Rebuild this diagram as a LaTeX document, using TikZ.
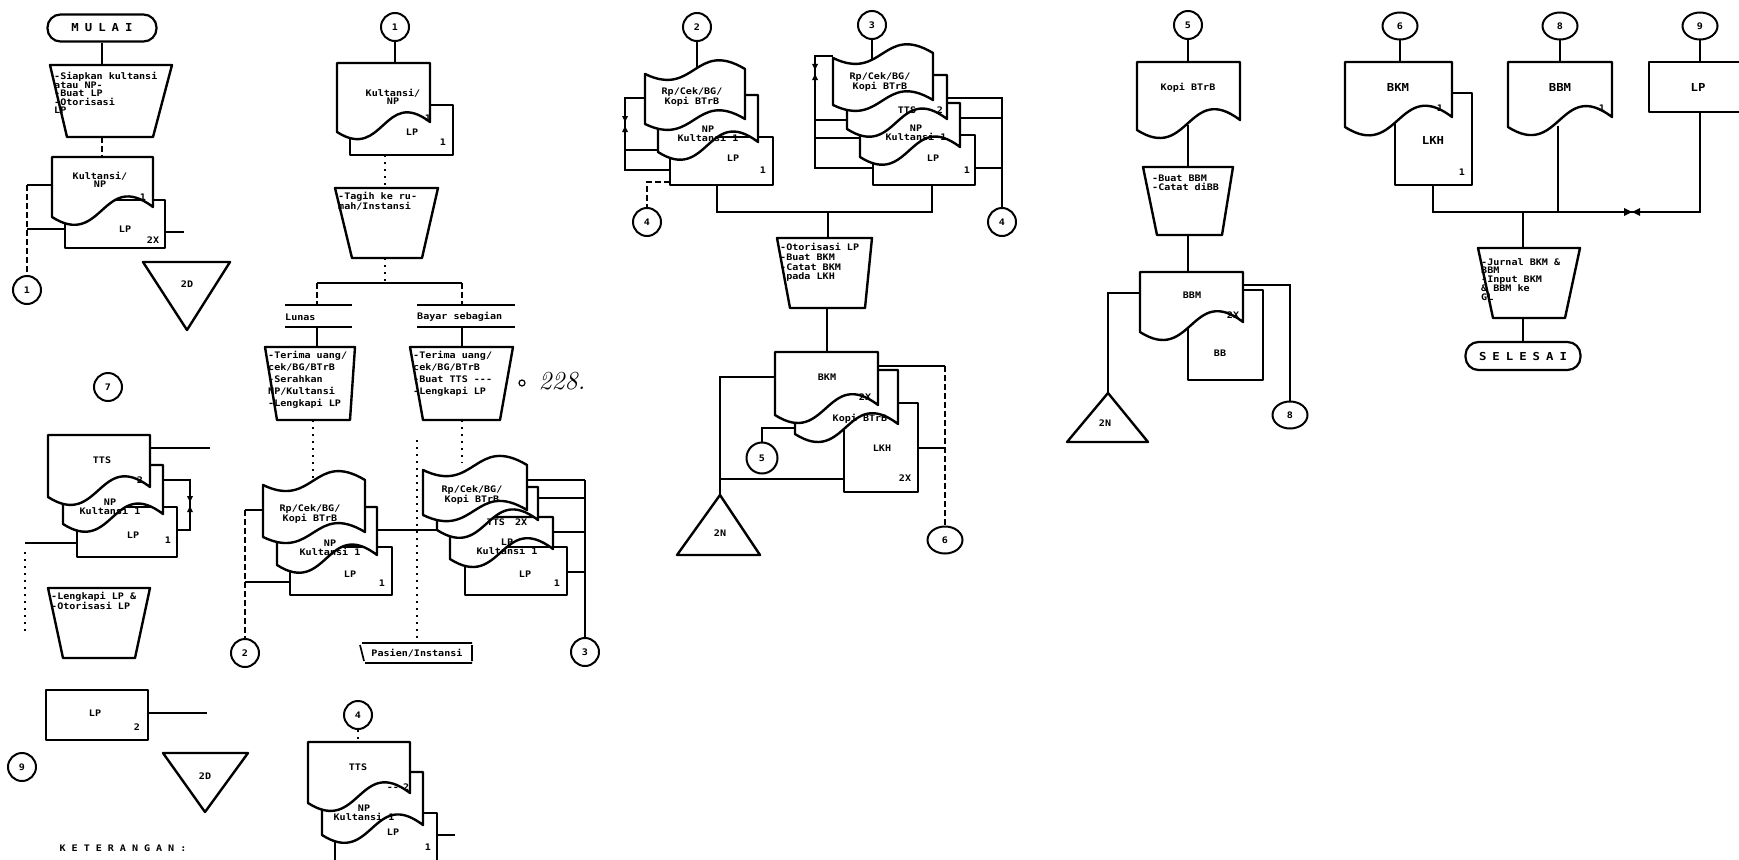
\documentclass[tikz,border=0pt]{standalone}
\usepackage{fontspec}
\usetikzlibrary{shapes.geometric}
\newfontfamily\plot[FakeStretch=1.12]{DejaVu Sans Mono}
\newcommand\lsp{\hspace{6pt}}
% document: x0 y0 x1 yb
\newcommand\docu[4]{%
\pgfmathsetmacro\dxm{(#1+#3)/2}\pgfmathsetmacro\dws{(#3-#1)/100}%
\filldraw[shp] (#1,#2) -- (#3,#2) -- (#3,#4-10) .. controls (\dxm,{#4-10-38*\dws}) and (\dxm,{#4+32*\dws}) .. (#1,#4) -- cycle;}
% punched tape: x0 yt x1 yb
\newcommand\tape[4]{%
\pgfmathsetmacro\dxm{(#1+#3)/2}\pgfmathsetmacro\dws{(#3-#1)/100}%
\filldraw[shp] (#1,#2) .. controls (\dxm,{#2+24*\dws}) and (\dxm,{#2-5-30*\dws}) .. (#3,#2-5) -- (#3,#4-5) .. controls (\dxm,{#4-5-30*\dws}) and (\dxm,{#4+24*\dws}) .. (#1,#4) -- cycle;}
\newcommand\vbow[2]{\fill (#1-3,#2-8) -- (#1+3,#2-8) -- (#1,#2-2) -- cycle; \fill (#1-3,#2+8) -- (#1+3,#2+8) -- (#1,#2+2) -- cycle;}
\newcommand\hbow[2]{\fill (#1-8,#2-4) -- (#1-8,#2+4) -- (#1,#2) -- cycle; \fill (#1+8,#2-4) -- (#1+8,#2+4) -- (#1,#2) -- cycle;}
\begin{document}
\begin{tikzpicture}[x=1pt,y=-1pt,
 shp/.style={draw,line width=2.4pt,fill=white,line join=round},
 ln/.style={line width=1.4pt},
 dl/.style={line width=1.4pt,dash pattern=on 6pt off 3pt},
 dt/.style={line width=1.4pt,dash pattern=on 2pt off 5pt},
 txt/.style={font=\plot\bfseries\fontsize{9}{8.5}\selectfont,inner sep=0pt,align=left},
 txc/.style={font=\plot\bfseries\fontsize{9}{8.5}\selectfont,inner sep=0pt,align=center},
 big/.style={font=\plot\bfseries\fontsize{11}{11}\selectfont,inner sep=0pt},
 cn/.style={circle,draw,line width=2pt,minimum size=28pt,inner sep=0pt,font=\plot\bfseries\fontsize{9}{9}\selectfont},
 ce/.style={ellipse,draw,line width=2pt,minimum width=35pt,minimum height=27pt,inner sep=0pt,font=\plot\bfseries\fontsize{9}{9}\selectfont},
 term/.style={draw,line width=2.2pt,rounded corners=13pt,minimum width=109pt,minimum height=27pt,inner sep=0pt,font=\plot\bfseries\fontsize{11}{11}\selectfont},
 lab/.style={line width=1.7pt}]
\useasboundingbox (0,0) rectangle (1739,859);

% ---------- connector circles and terminators ----------
\node[cn] (c1a) at (27,290) {1};
\node[cn] (c7) at (108,387) {7};
\node[cn] (c9a) at (22,767) {9};
\node[cn] (c1b) at (395,27) {1};
\node[cn] (c2a) at (245,653) {2};
\node[cn] (c3a) at (585,652) {3};
\node[cn] (c4a) at (358,715) {4};
\node[cn] (c2b) at (697,27) {2};
\node[cn] (c3b) at (872,25) {3};
\node[cn] (c4b) at (647,222) {4};
\node[cn] (c4c) at (1002,222) {4};
\node[cn,minimum size=31pt] (c5a) at (762,458) {5};
\node[ce] (c6a) at (945,540) {6};
\node[cn] (c5b) at (1188,25) {5};
\node[ce] (c8a) at (1290,415) {8};
\node[ce] (c6b) at (1400,26) {6};
\node[ce] (c8b) at (1560,26) {8};
\node[ce] (c9b) at (1700,26) {9};
\node[term] (mulai) at (102,28) {M\lsp U\lsp L\lsp A\lsp I};
\node[term,minimum width=115pt,minimum height=28pt] (selesai) at (1523,356) {S\lsp E\lsp L\lsp E\lsp S\lsp A\lsp I};

% ---------- connectors ----------
% column 1
\draw[ln] (mulai.south) -- (102,65);
\draw[dl] (102,137) -- (102,157);
\draw[ln] (52,185) -- (27,185);
\draw[ln] (65,229) -- (27,229);
\draw[dl] (27,185) -- (c1a.north);
\draw[ln] (165,232) -- (184,232);
\draw[ln] (150,448) -- (210,448);
\draw[ln] (163,480) -- (190,480) -- (190,530) -- (177,530);
\vbow{190}{504}
\draw[ln] (77,543) -- (25,543);
\draw[dt] (25,552) -- (25,632);
\draw[ln] (148,713) -- (207,713);
% column 2
\draw[ln] (c1b.south) -- (395,63);
\draw[dt] (385,155) -- (385,188);
\draw[dt] (385,258) -- (385,283);
\draw[ln] (317,283) -- (462,283);
\draw[dl] (317,283) -- (317,305);
\draw[dl] (462,283) -- (462,305);
\draw[ln] (317,327) -- (317,347);
\draw[ln] (462,327) -- (462,347);
\draw[dt] (313,420) -- (313,478);
\draw[dt] (462,420) -- (462,463);
\draw[ln] (263,510) -- (245,510);
\draw[dl] (245,510) -- (c2a.north);
\draw[ln] (290,582) -- (245,582);
\draw[ln] (377,530) -- (437,530);
\draw[dt] (417,440) -- (417,643);
\draw[ln] (527,480) -- (585,480);
\draw[ln] (538,498) -- (585,498);
\draw[ln] (553,532) -- (585,532);
\draw[ln] (567,572) -- (585,572);
\draw[ln] (585,480) -- (c3a.north);
\draw[dt] (c4a.south) -- (358,742);
\draw[ln] (437,835) -- (455,835);
% column 3
\draw[ln] (c2b.south) -- (697,72);
\draw[ln] (645,98) -- (625,98) -- (625,170) -- (670,170);
\draw[ln] (658,150) -- (625,150);
\vbow{625}{124}
\draw[dl] (670,182) -- (647,182) -- (c4b.north);
\draw[ln] (717,185) -- (717,212) -- (932,212) -- (932,185);
\draw[ln] (828,212) -- (828,238);
\draw[ln] (c3b.south) -- (872,60);
\draw[ln] (833,56) -- (815,56) -- (815,168) -- (873,168);
\draw[ln] (847,120) -- (815,120);
\draw[ln] (860,138) -- (815,138);
\vbow{815}{72}
\draw[ln] (947,98) -- (1002,98) -- (c4c.north);
\draw[ln] (960,118) -- (1002,118);
\draw[ln] (975,168) -- (1002,168);
\draw[ln] (827,308) -- (827,352);
\draw[ln] (775,377) -- (720,377) -- (720,495);
\draw[ln] (844,479) -- (720,479);
\draw[ln] (795,428) -- (762,428) -- (c5a.north);
\draw[ln] (878,366) -- (945,366);
\draw[dl] (945,366) -- (c6a.north);
\draw[ln] (918,448) -- (945,448);
% column 4
\draw[ln] (c5b.south) -- (1188,62);
\draw[ln] (1188,125) -- (1188,167);
\draw[ln] (1188,235) -- (1188,272);
\draw[ln] (1140,293) -- (1108,293) -- (1108,393);
\draw[ln] (1243,285) -- (1290,285) -- (c8a.north);
% column 5
\draw[ln] (c6b.south) -- (1400,62);
\draw[ln] (c8b.south) -- (1560,62);
\draw[ln] (c9b.south) -- (1700,62);
\draw[ln] (1433,185) -- (1433,212) -- (1700,212) -- (1700,112);
\draw[ln] (1558,126) -- (1558,212);
\draw[ln] (1523,212) -- (1523,248);
\hbow{1632}{212}
\draw[ln] (1523,318) -- (selesai.north);

% ---------- shapes ----------
% column 1
\filldraw[shp] (50,65) -- (172,65) -- (153,137) -- (67,137) -- cycle;
\filldraw[shp] (65,200) rectangle (165,248);
\docu{52}{157}{153}{217}
\filldraw[shp] (143,262) -- (230,262) -- (187,330) -- cycle;
\filldraw[shp] (77,507) rectangle (177,557);
\docu{63}{465}{163}{524}
\docu{48}{435}{150}{497}
\filldraw[shp] (48,588) -- (150,588) -- (135,658) -- (63,658) -- cycle;
\filldraw[shp] (46,690) rectangle (148,740);
\filldraw[shp] (163,753) -- (248,753) -- (205,812) -- cycle;
% column 2
\filldraw[shp] (350,105) rectangle (453,155);
\docu{337}{63}{430}{132}
\filldraw[shp] (335,188) -- (438,188) -- (422,258) -- (352,258) -- cycle;
\draw[lab] (285,305) -- (352,305) (285,327) -- (352,327);
\draw[lab] (417,305) -- (515,305) (417,327) -- (515,327);
\filldraw[shp] (265,347) -- (355,347) -- (350,420) -- (277,420) -- cycle;
\filldraw[shp] (410,347) -- (513,347) -- (500,420) -- (423,420) -- cycle;
\filldraw[shp] (290,547) rectangle (392,595);
\docu{277}{507}{377}{565}
\tape{263}{485}{365}{537}
\filldraw[shp] (465,547) rectangle (567,595);
\docu{450}{517}{553}{559}
\docu{437}{487}{538}{530}
\tape{423}{470}{527}{515}
\draw[lab] (362,643) -- (472,643) (365,663) -- (472,663) (360,645) -- (364,661) (472,645) -- (472,661);
\filldraw[shp] (335,813) rectangle (437,880);
\docu{322}{772}{423}{835}
\docu{308}{742}{410}{803}
% column 3
\filldraw[shp] (670,137) rectangle (773,185);
\docu{658}{95}{758}{152}
\tape{645}{74}{745}{124}
\filldraw[shp] (873,135) rectangle (975,185);
\docu{860}{103}{960}{157}
\docu{847}{75}{947}{129}
\tape{833}{58}{933}{105}
\filldraw[shp] (777,238) -- (872,238) -- (865,308) -- (790,308) -- cycle;
\filldraw[shp] (844,403) rectangle (918,492);
\docu{795}{370}{898}{434}
\docu{775}{352}{878}{415}
\filldraw[shp] (720,495) -- (760,555) -- (677,555) -- cycle;
% column 4
\docu{1137}{62}{1240}{130}
\filldraw[shp] (1143,167) -- (1233,167) -- (1222,235) -- (1157,235) -- cycle;
\filldraw[shp] (1188,290) rectangle (1263,380);
\docu{1140}{272}{1243}{332}
\filldraw[shp] (1108,393) -- (1148,442) -- (1067,442) -- cycle;
% column 5
\filldraw[shp] (1395,93) rectangle (1472,185);
\docu{1345}{62}{1452}{127}
\docu{1508}{62}{1612}{127}
\filldraw[shp] (1750,62) -- (1649,62) -- (1649,112) -- (1750,112);
\filldraw[shp] (1478,248) -- (1580,248) -- (1565,318) -- (1493,318) -- cycle;

% ---------- texts ----------
% column 1
\node[txt,anchor=north west] (t1) at (54,72) {-Siapkan kultansi\\ atau NP-\\-Buat LP\\-Otorisasi\\ LP};
\node[txc] (t2) at (100,180) {Kultansi/\\NP};
\node[txt] (t3) at (143,197) {1};
\node[txt] (t4) at (125,229) {LP};
\node[txt] (t5) at (153,240) {2X};
\node[txt] (t6) at (187,284) {2D};
\node[txt] (t7) at (102,460) {TTS};
\node[txt] (t8) at (140,480) {2};
\node[txc] (t9) at (110,507) {NP\\Kultansi 1};
\node[txt] (t10) at (133,535) {LP};
\node[txt] (t11) at (168,540) {1};
\node[txt,anchor=north west] (t12) at (51,592) {-Lengkapi LP \&\\-Otorisasi LP};
\node[txt] (t13) at (95,713) {LP};
\node[txt] (t14) at (137,727) {2};
\node[txt] (t15) at (205,776) {2D};
\node[font=\plot\bfseries\fontsize{9}{9}\selectfont,inner sep=0pt] (ket) at (123,848) {K\lsp E\lsp T\lsp E\lsp R\lsp A\lsp N\lsp G\lsp A\lsp N\lsp :};
% column 2
\node[txc] (t16) at (393,97) {Kultansi/\\NP};
\node[txt] (t17) at (428,118) {1};
\node[txt] (t18) at (412,132) {LP};
\node[txt] (t19) at (443,142) {1};
\node[txt,anchor=north west] (t20) at (338,192) {-Tagih ke ru-\\mah/Instansi};
\node[txt,anchor=west] (t21) at (285,317) {Lunas};
\node[txt,anchor=west] (t22) at (417,317) {Bayar sebagian};
\node[txt,anchor=north west,font=\plot\bfseries\fontsize{9}{12}\selectfont] (t23) at (268,351) {-Terima uang/\\ cek/BG/BTrB\\ -Serahkan\\ NP/Kultansi\\-Lengkapi LP};
\node[txt,anchor=north west,font=\plot\bfseries\fontsize{9}{12}\selectfont] (t24) at (413,351) {-Terima uang/\\ cek/BG/BTrB\\ -Buat TTS ---\\ -Lengkapi LP};
\draw[line width=1.2pt] (522,383) circle (3pt);
\node[font=\fontsize{26}{26}\selectfont\itshape,inner sep=0pt] (hw) at (562,381) {228.};
\node[txc] (t25) at (310,514) {Rp/Cek/BG/\\Kopi BTrB};
\node[txc] (t26) at (330,548) {NP\\Kultansi 1};
\node[txt] (t27) at (350,574) {LP};
\node[txt] (t28) at (382,583) {1};
\node[txc] (t29) at (472,495) {Rp/Cek/BG/\\Kopi BTrB};
\node[txt] (t30) at (507,522) {TTS\hspace{10pt}2X};
\node[txc] (t31) at (507,547) {LP\\Kultansi 1};
\node[txt] (t32) at (525,574) {LP};
\node[txt] (t33) at (557,583) {1};
\node[txt] (t34) at (417,653) {Pasien/Instansi};
\node[txt] (t35) at (358,767) {TTS};
\node[txt] (t36) at (398,787) {--\hspace{4pt}2};
\node[txc] (t37) at (364,813) {NP\\Kultansi 1};
\node[txt] (t38) at (393,832) {LP};
\node[txt] (t39) at (428,847) {1};
% column 3
\node[txc] (t40) at (692,97) {Rp/Cek/BG/\\Kopi BTrB};
\node[txc] (t41) at (708,134) {NP\\Kultansi 1};
\node[txt] (t42) at (733,158) {LP};
\node[txt] (t43) at (763,170) {1};
\node[txc] (t44) at (880,82) {Rp/Cek/BG/\\Kopi BTrB};
\node[txt] (t45) at (907,110) {TTS};
\node[txt] (t46) at (940,110) {2};
\node[txc] (t47) at (916,133) {NP\\Kultansi 1};
\node[txt] (t48) at (933,158) {LP};
\node[txt] (t49) at (967,170) {1};
\node[txt,anchor=north west,font=\plot\bfseries\fontsize{9}{9.8}\selectfont] (t50) at (780,243) {-Otorisasi LP\\-Buat BKM\\ -Catat BKM\\ \ pada LKH};
\node[txt] (t51) at (827,377) {BKM};
\node[txt] (t52) at (865,397) {2X};
\node[txt] (t53) at (860,419) {Kopi BTrB};
\node[txt] (t54) at (882,448) {LKH};
\node[txt] (t55) at (905,478) {2X};
\node[txt] (t56) at (720,533) {2N};
% column 4
\node[txt] (t57) at (1188,88) {Kopi BTrB};
\node[txt,anchor=north west] (t58) at (1152,175) {-Buat BBM\\-Catat diBB};
\node[txt] (t59) at (1192,295) {BBM};
\node[txt] (t60) at (1233,315) {2X};
\node[txt] (t61) at (1220,353) {BB};
\node[txt] (t62) at (1105,423) {2N};
% column 5
\node[big] (t63) at (1398,87) {BKM};
\node[txt] (t64) at (1440,108) {1};
\node[big] (t65) at (1433,140) {LKH};
\node[txt] (t66) at (1462,172) {1};
\node[big] (t67) at (1560,87) {BBM};
\node[txt] (t68) at (1602,108) {1};
\node[big] (t69) at (1698,87) {LP};
\node[txt,anchor=north west] (t70) at (1481,258) {-Jurnal BKM \&\\ BBM\\-Input BKM\\ \& BBM ke\\ GL};
\end{tikzpicture}
\end{document}
